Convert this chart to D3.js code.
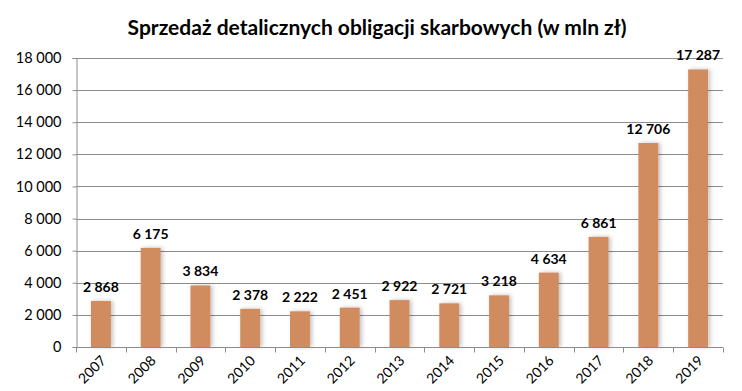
<!DOCTYPE html>
<html><head><meta charset="utf-8">
<script src="https://cdn.jsdelivr.net/npm/d3@7"></script>
<style>body{margin:0;background:#fff}svg{display:block;font-family:Lato,"Open Sans",sans-serif}</style>
</head><body>
<svg id="c" width="742" height="391"></svg>
<script>
const years = ["2007","2008","2009","2010","2011","2012","2013","2014","2015","2016","2017","2018","2019"];
const sales = [2868,6175,3834,2378,2222,2451,2922,2721,3218,4634,6861,12706,17287];
const yTicks = [0,2000,4000,6000,8000,10000,12000,14000,16000,18000];
const title = "Sprzedaż detalicznych obligacji skarbowych (w mln zł)";

const svg = d3.select("#c");
const mL = 76, mR = 723, mT = 58, mB = 347;
const fmt = v => d3.format(",")(v).replace(/,/g, " ");

const defs = svg.append("defs");
const f = defs.append("filter").attr("id","sh").attr("x","-30%").attr("y","-10%").attr("width","160%").attr("height","120%");
f.append("feDropShadow").attr("dx",2).attr("dy",0).attr("stdDeviation",2).attr("flood-color","#000").attr("flood-opacity",0.25);

const x = d3.scaleBand().domain(years).range([mL,mR]).paddingInner(0.6).paddingOuter(0.3);
const xb = d3.scaleBand().domain(years).range([mL,mR]);
const y = d3.scaleLinear().domain([0,18000]).range([mB,mT]);

svg.append("text").attr("x",377).attr("y",35).attr("text-anchor","middle")
  .attr("font-size",21).attr("font-weight","bold").attr("fill","#000").text(title);

// grid
svg.append("g").selectAll("line").data(yTicks.filter(d=>d>0)).join("line")
  .attr("x1",mL).attr("x2",mR).attr("y1",d=>Math.round(y(d))+0.5).attr("y2",d=>Math.round(y(d))+0.5)
  .attr("stroke","#8c8c8c").attr("stroke-width",1);

// y axis
const ya = svg.append("g").attr("transform",`translate(${mL+0.5},0)`)
  .call(d3.axisLeft(y).tickValues(yTicks).tickFormat(fmt).tickSize(4).tickPadding(11));
ya.select(".domain").attr("stroke","#8c8c8c");
ya.selectAll(".tick line").attr("stroke","#8c8c8c");
ya.selectAll("text").attr("font-size",14.5).attr("fill","#000").attr("font-family","Lato, sans-serif");

// bars
svg.append("g").selectAll("rect").data(sales).join("rect")
  .attr("x",(d,i)=>x(years[i])).attr("width",x.bandwidth())
  .attr("y",d=>y(d)).attr("height",d=>mB-y(d))
  .attr("fill","#d08c5e").attr("filter","url(#sh)");

// x axis
const xg = svg.append("g").attr("transform",`translate(0,${mB+0.5})`);
xg.append("line").attr("x1",mL).attr("x2",mR).attr("stroke","#8c8c8c");
xg.selectAll("line.t").data(years.concat(["end"])).join("line").attr("class","t")
  .attr("x1",(d,i)=>Math.round(mL+i*xb.bandwidth())+0.5).attr("x2",(d,i)=>Math.round(mL+i*xb.bandwidth())+0.5)
  .attr("y1",0).attr("y2",5).attr("stroke","#8c8c8c");
xg.selectAll("text.l").data(years).join("text").attr("class","l")
  .attr("transform",d=>`translate(${xb(d)+xb.bandwidth()/2+6},${14}) rotate(-45)`)
  .attr("text-anchor","end").attr("font-size",14).attr("fill","#000").text(d=>d);

// labels
svg.append("g").selectAll("text").data(sales).join("text")
  .attr("x",(d,i)=>x(years[i])+x.bandwidth()/2).attr("y",d=>y(d)-9)
  .attr("text-anchor","middle").attr("font-size",14).attr("font-weight","bold").attr("fill","#000")
  .text(fmt);
</script>
</body></html>
